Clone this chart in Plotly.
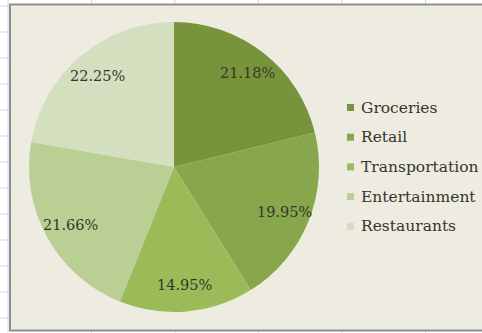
import math
import plotly.graph_objects as go

# Expense shares (percent of total)
categories = ["Groceries", "Retail", "Transportation", "Entertainment", "Restaurants"]
shares = [21.18, 19.95, 14.95, 21.66, 22.25]
slice_colors = ["#77933c", "#88a64b", "#9bbb59", "#b9cf94", "#d3dfbf"]

W, H = 482, 333
FONT = "DejaVu Serif"
TEXT_COLOR = "#36352a"

# pie geometry in pixels
CX, CY, R = 174.0, 167.0, 145.0
LABEL_R = 0.82

fig = go.Figure()

fig.add_trace(go.Pie(
    labels=categories,
    values=shares,
    sort=False,
    direction="clockwise",
    rotation=0,
    marker=dict(colors=slice_colors, line=dict(width=0)),
    textinfo="none",
    hoverinfo="label+percent",
    showlegend=False,
    domain=dict(x=[(CX - R) / W, (CX + R) / W],
                y=[1 - (CY + R) / H, 1 - (CY - R) / H]),
))

shapes = []
# worksheet gridlines around the chart object
for gx in [8, 91.5, 175, 258.5, 342, 425.5]:
    shapes.append(dict(type="line", x0=gx, x1=gx, y0=0, y1=H,
                       line=dict(color="#d0d7e5", width=1), layer="below"))
for k in range(13):
    gy = 6 + 26 * k
    shapes.append(dict(type="line", x0=0, x1=W, y0=gy, y1=gy,
                       line=dict(color="#d0d7e5", width=1), layer="below"))
# chart area
shapes.append(dict(type="rect", x0=10, x1=W + 10, y0=4.5, y1=330.5,
                   fillcolor="#eeece1", line=dict(color="#8f8f8f", width=2),
                   layer="below"))

annotations = []
# percentage labels placed along each slice's bisector
total = sum(shares)
cum = 0.0
for v in shares:
    mid = (cum + v / 2) / total * 2 * math.pi
    cum += v
    lx = CX + LABEL_R * R * math.sin(mid)
    ly = CY - LABEL_R * R * math.cos(mid)
    annotations.append(dict(x=lx, y=ly, xref="x", yref="y", text=f"{v:.2f}%",
                            showarrow=False, xanchor="center", yanchor="middle",
                            font=dict(family=FONT, size=14.5, color=TEXT_COLOR)))

# legend entries
LEG_X, LEG_Y, LEG_STEP, SQ = 347, 107.5, 29.7, 7
for i, (name, col) in enumerate(zip(categories, slice_colors)):
    yy = LEG_Y + LEG_STEP * i
    shapes.append(dict(type="rect", x0=LEG_X, x1=LEG_X + SQ,
                       y0=yy - SQ / 2, y1=yy + SQ / 2,
                       fillcolor=col, line=dict(width=0)))
    annotations.append(dict(x=LEG_X + SQ + 5, y=yy, xref="x", yref="y", text=name,
                            showarrow=False, xanchor="left", yanchor="middle",
                            font=dict(family=FONT, size=15.5, color=TEXT_COLOR)))

fig.update_layout(
    width=W, height=H,
    margin=dict(l=0, r=0, t=0, b=0),
    paper_bgcolor="white",
    plot_bgcolor="rgba(0,0,0,0)",
    xaxis=dict(range=[0, W], visible=False, fixedrange=True, domain=[0, 1]),
    yaxis=dict(range=[H, 0], visible=False, fixedrange=True, domain=[0, 1]),
    shapes=shapes,
    annotations=annotations,
    showlegend=False,
)

fig.write_html("out.html")
